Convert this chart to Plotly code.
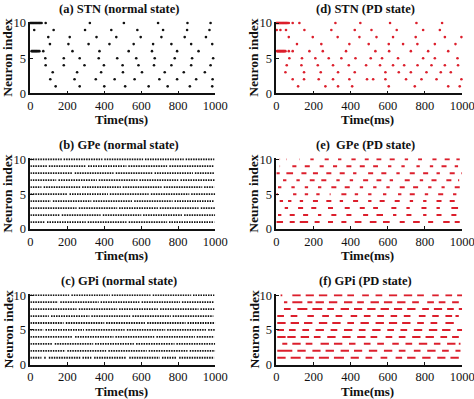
import plotly.graph_objects as go

# ---------------- data (spike times in ms, neuron 1..10) ----------------
time_ticks = [0, 200, 400, 600, 800, 1000]
neuron_ticks = [0, 5, 10]

stn_normal = [
    [137, 267, 400, 513, 640, 743, 863, 984],
    [108, 239, 354, 456, 564, 698, 794, 897, 986],
    [121, 253, 383, 501, 604, 727, 830, 944],
    [83, 181, 293, 398, 499, 585, 669, 763, 870, 975],
    [81, 181, 267, 370, 470, 573, 673, 781, 875, 989],
    [7, 12, 17, 22, 27, 32, 37, 43, 49, 70, 228, 374, 532, 658, 794, 910],
    [106, 206, 315, 428, 559, 664, 763, 870, 984],
    [97, 213, 358, 465, 597, 709, 835, 950],
    [21, 126, 296, 438, 579, 718, 848, 969],
    [0, 5, 10, 15, 20, 25, 30, 35, 40, 45, 50, 54, 61, 83, 322, 506, 691, 850, 975],
]

stn_pd = [
    [117, 264, 332, 408, 605, 745, 925, 987],
    [88, 149, 228, 305, 393, 488, 521, 587, 698, 781, 862, 996],
    [49, 149, 239, 332, 422, 587, 659, 724, 808, 885, 939],
    [56, 135, 223, 305, 390, 483, 558, 628, 688, 760, 835, 907, 978],
    [70, 138, 210, 282, 350, 426, 508, 569, 655, 790, 853, 975],
    [4, 8, 12, 16, 20, 24, 28, 32, 36, 40, 44, 49, 67, 88, 178, 250, 375, 533, 607, 724, 817, 925],
    [111, 242, 393, 497, 605, 682, 759, 853, 964],
    [67, 196, 330, 447, 539, 628, 750, 907, 996],
    [2, 22, 52, 151, 296, 422, 512, 648, 790, 880],
    [0, 4, 8, 12, 16, 20, 24, 28, 32, 36, 40, 44, 48, 52, 56, 60, 67, 88, 124, 318, 452, 612, 754, 892],
]

# firing segments [start, end] (ms) for the dense rasters, neuron 1..10
gpe_normal = [
    [[0, 80], [90, 300], [310, 520], [532, 740], [750, 995]],
    [[0, 160], [170, 380], [392, 600], [610, 820], [832, 1000]],
    [[0, 250], [262, 470], [480, 690], [700, 910], [922, 1000]],
    [[0, 110], [122, 330], [340, 550], [562, 770], [780, 995]],
    [[0, 200], [212, 420], [430, 640], [652, 860], [870, 1000]],
    [[0, 60], [72, 270], [280, 490], [500, 710], [722, 930], [940, 995]],
    [[0, 140], [152, 360], [370, 580], [590, 800], [812, 1000]],
    [[0, 230], [240, 450], [462, 660], [672, 880], [890, 998]],
    [[0, 90], [100, 300], [312, 520], [530, 740], [752, 990]],
    [[0, 170], [180, 390], [400, 610], [620, 830], [840, 995]],
]

gpe_pd = [
    [[0, 36], [72, 99], [126, 171], [206, 233], [278, 305], [350, 377], [422, 458], [503, 539], [574, 610], [664, 691], [736, 772], [817, 844], [898, 933], [960, 987]],
    [[9, 27], [72, 99], [144, 171], [224, 242], [296, 323], [377, 404], [467, 494], [539, 574], [628, 646], [700, 727], [790, 808], [862, 889], [942, 969]],
    [[45, 63], [117, 144], [188, 215], [278, 305], [368, 395], [449, 476], [521, 547], [619, 646], [700, 718], [781, 808], [862, 880], [942, 978]],
    [[18, 36], [63, 81], [126, 144], [197, 224], [269, 296], [341, 359], [413, 440], [494, 512], [556, 583], [637, 664], [718, 736], [790, 808], [862, 889], [933, 960]],
    [[0, 9], [90, 108], [153, 171], [215, 233], [287, 292], [350, 377], [422, 440], [494, 512], [574, 592], [655, 673], [718, 745], [799, 817], [871, 898], [951, 969]],
    [[9, 27], [81, 99], [153, 171], [224, 242], [296, 323], [368, 395], [449, 467], [521, 539], [592, 610], [664, 691], [736, 763], [817, 835], [889, 906], [960, 987]],
    [[36, 54], [108, 126], [180, 206], [242, 269], [323, 341], [395, 413], [467, 494], [539, 565], [610, 628], [691, 718], [772, 790], [835, 862], [915, 942], [978, 984]],
    [[0, 18], [54, 90], [135, 162], [197, 224], [269, 296], [341, 368], [413, 431], [494, 521], [565, 592], [646, 664], [718, 745], [790, 817], [862, 880], [933, 960], [996, 1000]],
    [[18, 20], [86, 108], [153, 180], [233, 255], [305, 327], [377, 404], [449, 476], [521, 547], [601, 619], [673, 691], [754, 772], [826, 844], [889, 916], [960, 978]],
    [[18, 20], [54, 56], [122, 124], [183, 201], [260, 282], [332, 350], [404, 427], [476, 497], [539, 565], [610, 637], [691, 709], [763, 784], [840, 862], [906, 933], [969, 987]],
]

gpi_normal = [
    [[0, 60], [75, 85], [100, 270], [282, 330], [345, 520], [535, 700], [712, 790], [805, 995]],
    [[0, 190], [200, 410], [422, 630], [640, 850], [862, 1000]],
    [[0, 120], [132, 340], [350, 560], [572, 780], [790, 1000]],
    [[0, 230], [242, 450], [460, 670], [682, 890], [900, 995]],
    [[0, 70], [82, 290], [300, 510], [522, 730], [740, 950], [962, 1000]],
    [[0, 180], [192, 400], [410, 620], [632, 840], [850, 1000]],
    [[0, 100], [112, 320], [330, 540], [552, 760], [770, 990]],
    [[0, 250], [262, 470], [480, 690], [702, 910], [920, 995]],
    [[0, 150], [162, 370], [380, 590], [602, 810], [820, 995]],
    [[0, 210], [222, 430], [440, 650], [662, 870], [880, 995]],
]

gpi_pd = [
    [[5, 50], [77, 131], [158, 202], [229, 283], [310, 364], [400, 444], [480, 516], [561, 597], [642, 677], [704, 749], [785, 830], [866, 910], [937, 982]],
    [[5, 86], [113, 158], [194, 238], [265, 310], [346, 391], [418, 462], [498, 543], [579, 624], [659, 695], [740, 776], [812, 857], [892, 928], [964, 991]],
    [[32, 59], [86, 131], [158, 194], [238, 283], [310, 355], [391, 426], [471, 507], [543, 579], [624, 659], [695, 731], [767, 812], [848, 883], [919, 964], [982, 991]],
    [[5, 50], [59, 104], [131, 176], [202, 238], [274, 319], [355, 400], [435, 480], [507, 543], [588, 624], [659, 695], [731, 776], [803, 848], [883, 919], [946, 982]],
    [[5, 41], [68, 104], [140, 176], [211, 256], [292, 328], [364, 409], [444, 480], [516, 561], [597, 633], [668, 704], [740, 785], [821, 866], [892, 937], [973, 1000]],
    [[5, 50], [77, 122], [149, 194], [229, 274], [301, 346], [382, 418], [453, 498], [534, 579], [606, 650], [677, 722], [758, 794], [830, 866], [910, 955]],
    [[5, 41], [77, 113], [167, 202], [247, 283], [319, 355], [400, 435], [471, 507], [543, 579], [615, 650], [686, 722], [767, 803], [839, 874], [910, 946], [964, 982]],
    [[41, 77], [113, 167], [194, 247], [274, 310], [346, 391], [418, 462], [489, 534], [561, 606], [633, 677], [704, 749], [785, 821], [848, 892], [919, 955], [982, 1000]],
    [[41, 59], [86, 140], [167, 194], [211, 256], [283, 328], [364, 409], [435, 471], [507, 552], [579, 624], [650, 695], [731, 767], [812, 848], [874, 910], [946, 982]],
    [[23, 32], [86, 131], [158, 202], [229, 274], [310, 355], [382, 418], [462, 498], [534, 570], [606, 650], [686, 731], [758, 794], [839, 874], [910, 946], [973, 1000]],
]

titles = ["(a) STN (normal state)", "(d) STN (PD state)",
          "(b) GPe (normal state)", "(e)  GPe (PD state)",
          "(c) GPi (normal state)", "(f) GPi (PD state)"]

# ---------------- styling / layout ----------------
BLACK = "#111111"
RED = "#dc1f2c"
SERIF = "Liberation Serif, Times New Roman, serif"
W, H = 474, 399

col_x = [[0.064, 0.454], [0.583, 0.975]]
row_y = [[0.766, 0.945], [0.426, 0.6035], [0.086, 0.2627]]


def spikes_xy(trains):
    xs, ys = [], []
    for i, train in enumerate(trains):
        xs.extend(train)
        ys.extend([i + 1] * len(train))
    return xs, ys


def segs_xy(trains):
    xs, ys = [], []
    for i, train in enumerate(trains):
        for s, e in train:
            xs.extend([s, e, None])
            ys.extend([i + 1, i + 1, None])
    return xs, ys


fig = go.Figure()

panels = [
    (stn_normal, "spikes", BLACK, 0, 0),
    (stn_pd, "spikes", RED, 0, 1),
    (gpe_normal, "dense", BLACK, 1, 0),
    (gpe_pd, "burst", RED, 1, 1),
    (gpi_normal, "dense", BLACK, 2, 0),
    (gpi_pd, "burst", RED, 2, 1),
]

annotations = []
for k, (data, kind, color, r, c) in enumerate(panels):
    ax = "" if k == 0 else str(k + 1)
    xref, yref = "x" + ax, "y" + ax
    if kind == "spikes":
        xs, ys = spikes_xy(data)
        fig.add_trace(go.Scatter(x=xs, y=ys, mode="markers", xaxis=xref, yaxis=yref,
                                 marker=dict(size=2.6, color=color, symbol="circle",
                                             line=dict(width=0)),
                                 cliponaxis=False, showlegend=False, hoverinfo="skip"))
    elif kind == "dense":
        xs, ys = segs_xy(data)
        fig.add_trace(go.Scatter(x=xs, y=ys, mode="lines", xaxis=xref, yaxis=yref,
                                 line=dict(color=color, width=1.8, dash="1.5px,1px"),
                                 cliponaxis=False, showlegend=False, hoverinfo="skip"))
    else:
        xs, ys = segs_xy(data)
        fig.add_trace(go.Scatter(x=xs, y=ys, mode="lines", xaxis=xref, yaxis=yref,
                                 line=dict(color=color, width=2),
                                 cliponaxis=False, showlegend=False, hoverinfo="skip"))

    axis_common = dict(showline=True, linecolor=BLACK, linewidth=1.6, mirror=False,
                       ticks="inside", ticklen=3, tickwidth=1.2, tickcolor=BLACK,
                       showgrid=False, zeroline=False, automargin=False,
                       ticklabeloverflow="allow",
                       tickfont=dict(family=SERIF, size=12.5, color=BLACK))
    fig.update_layout(**{
        "xaxis" + ax: dict(domain=col_x[c], anchor=yref, range=[0, 1000],
                           tickvals=time_ticks, **axis_common),
        "yaxis" + ax: dict(domain=row_y[r], anchor=xref, range=[0, 10.15],
                           tickvals=neuron_ticks, **axis_common),
    })

    x0, x1 = col_x[c]
    y0, y1 = row_y[r]
    xc = (x0 + x1) / 2
    annotations.append(dict(text=titles[k], x=xc - 0.008, y=y1 + 0.033, xref="paper", yref="paper",
                            showarrow=False, xanchor="center", yanchor="middle",
                            font=dict(family=SERIF, size=12.5, color=BLACK, weight="bold")))
    annotations.append(dict(text="Time(ms)", x=xc - 0.003, y=y0 - 0.066, xref="paper", yref="paper",
                            showarrow=False, xanchor="center", yanchor="middle",
                            font=dict(family=SERIF, size=13, color=BLACK, weight="bold")))
    annotations.append(dict(text="Neuron index", x=x0 - 0.047, y=(y0 + y1) / 2, xref="paper",
                            yref="paper", showarrow=False, textangle=-90,
                            xanchor="center", yanchor="middle",
                            font=dict(family=SERIF, size=13.5, color=BLACK, weight="bold")))

fig.update_layout(template="none", width=W, height=H, margin=dict(l=0, r=0, t=0, b=0, pad=0),
                  paper_bgcolor="white", plot_bgcolor="white",
                  annotations=annotations, showlegend=False)

fig.write_html("out.html", config={"displayModeBar": False},
               post_script="document.body.style.margin='0';document.body.style.padding='0';"
                           "document.body.style.overflow='hidden';")
